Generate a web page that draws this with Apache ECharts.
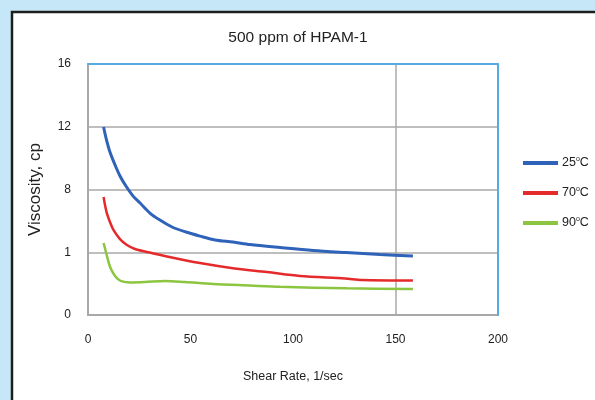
<!DOCTYPE html>
<html>
<head>
<meta charset="utf-8">
<script src="https://cdn.jsdelivr.net/npm/echarts@6/dist/echarts.min.js"></script>
<style>
  html, body { margin: 0; padding: 0; background: #c5e7f7; }
  #chart { width: 595px; height: 400px; }
</style>
</head>
<body>
<div id="chart"></div>
<script>
// ---- data ----
const title = '500 ppm of HPAM-1';
const xAxisName = 'Shear Rate, 1/sec';
const yAxisName = 'Viscosity, cp';
const yTickLabels = ['0', '1', '8', '12', '16'];   // as printed in the reference (evenly spaced)
const xTickLabels = ['0', '50', '100', '150', '200'];
const seriesNames = ['25', '70', '90'];           // temperatures, °C

const shear25 = [7.6, 8.8, 10.7, 13.2, 15.6, 18.5, 22.0, 25.4, 30.2, 35.1, 41.0, 47.8, 54.6, 62.0, 70.7, 79.0, 93.7, 109.8, 125.9, 142.4, 158.5];
const visc25  = [11.98, 11.28, 10.39, 9.56, 8.86, 8.22, 7.58, 7.14, 6.50, 6.05, 5.61, 5.29, 5.03, 4.78, 4.65, 4.49, 4.30, 4.11, 3.98, 3.86, 3.76];

const shear70 = [7.6, 8.3, 9.3, 10.7, 12.4, 15.6, 19.0, 22.9, 28.8, 38.5, 54.6, 70.7, 87.3, 103.4, 125.4, 133.7, 158.5];
const visc70  = [7.52, 7.01, 6.44, 5.93, 5.42, 4.84, 4.46, 4.21, 4.02, 3.73, 3.31, 2.98, 2.74, 2.49, 2.33, 2.23, 2.20];

const shear90 = [7.6, 8.5, 9.5, 10.7, 12.2, 14.2, 16.6, 20.5, 27.8, 37.6, 47.3, 61.0, 79.0, 93.7, 126.3, 158.5];
const visc90  = [4.59, 4.14, 3.63, 3.09, 2.68, 2.33, 2.14, 2.07, 2.10, 2.17, 2.10, 1.98, 1.88, 1.80, 1.70, 1.66];

const markerX = 150; // vertical reference line

// ---- build ----
const zip = (xs, ys) => xs.map((x, i) => [x, ys[i]]);
const colors = ['#2f62b9', '#e52a2b', '#8cc540'];
const widths = [3, 2.5, 2.5];
const seriesData = [zip(shear25, visc25), zip(shear70, visc70), zip(shear90, visc90)];
const FONT = 'Liberation Sans, Arial, sans-serif';

const chart = echarts.init(document.getElementById('chart'), null, { renderer: 'canvas' });

const series = seriesNames.map((n, i) => ({
  name: n,
  type: 'line',
  data: seriesData[i],
  showSymbol: false,
  smooth: 0.3,
  lineStyle: { color: colors[i], width: widths[i] },
  itemStyle: { color: colors[i] },
  z: 3,
  markLine: i === 0 ? {
    silent: true,
    symbol: 'none',
    label: { show: false },
    lineStyle: { color: '#a8a8a8', width: 1.5, type: 'solid' },
    data: [{ xAxis: markerX }],
    z: 1
  } : undefined
}));

const option = {
  backgroundColor: '#c5e7f7',
  animation: false,
  textStyle: { fontFamily: FONT },
  graphic: [{
    type: 'rect',
    z: -10,
    shape: { x: 12, y: 12, width: 700, height: 500 },
    style: { fill: '#ffffff', stroke: '#1e1e1e', lineWidth: 2.5 }
  }],
  title: {
    text: title,
    left: 293, top: 25,
    textAlign: 'center',
    textStyle: { fontSize: 15.5, fontWeight: 'normal', color: '#222', fontFamily: FONT }
  },
  legend: {
    orient: 'vertical',
    left: 518, top: 151,
    itemWidth: 35, itemHeight: 4,
    itemGap: 16.5,
    icon: 'rect',
    data: seriesNames,
    formatter: n => '{a|' + n + '}{s|o}{a|C}',
    textStyle: {
      color: '#222',
      padding: [0, 0, 0, -1],
      rich: {
        a: { fontSize: 12.5, color: '#222', fontFamily: FONT, lineHeight: 14 },
        s: { fontSize: 7, color: '#222', fontFamily: FONT, verticalAlign: 'top', lineHeight: 14, padding: [0, 0, 5, 0] }
      }
    }
  },
  grid: { left: 88, top: 64, width: 410, height: 251, show: false },
  xAxis: [{
    type: 'value', min: 0, max: 200, interval: 50,
    name: xAxisName, nameLocation: 'middle', nameGap: 55,
    nameTextStyle: { fontSize: 12.5, color: '#222' },
    axisLine: { show: true, lineStyle: { color: '#a8a8a8', width: 2 } },
    axisTick: { show: false },
    axisLabel: { margin: 19, fontSize: 12, color: '#222', formatter: v => xTickLabels[Math.round(v / 50)] },
    splitLine: { show: false }
  }, {
    type: 'value', min: 0, max: 200, position: 'top', z: 5,
    axisLine: { show: true, onZero: false, lineStyle: { color: '#58abe2', width: 2 } },
    axisTick: { show: false }, axisLabel: { show: false }, splitLine: { show: false }
  }],
  yAxis: [{
    type: 'value', min: 0, max: 16, interval: 4,
    name: yAxisName, nameLocation: 'middle', nameGap: 44, nameRotate: 90,
    nameTextStyle: { fontSize: 17, color: '#222' },
    axisLine: { show: true, lineStyle: { color: '#a8a8a8', width: 2 } },
    axisTick: { show: false },
    axisLabel: { margin: 17, fontSize: 12, color: '#222', formatter: v => yTickLabels[Math.round(v / 4)] },
    splitLine: { show: true, lineStyle: { color: '#a8a8a8', width: 1.5 } }
  }, {
    type: 'value', min: 0, max: 16, position: 'right', z: 5,
    axisLine: { show: true, onZero: false, lineStyle: { color: '#58abe2', width: 2 } },
    axisTick: { show: false }, axisLabel: { show: false }, splitLine: { show: false }
  }],
  series: series
};

chart.setOption(option);
</script>
</body>
</html>
